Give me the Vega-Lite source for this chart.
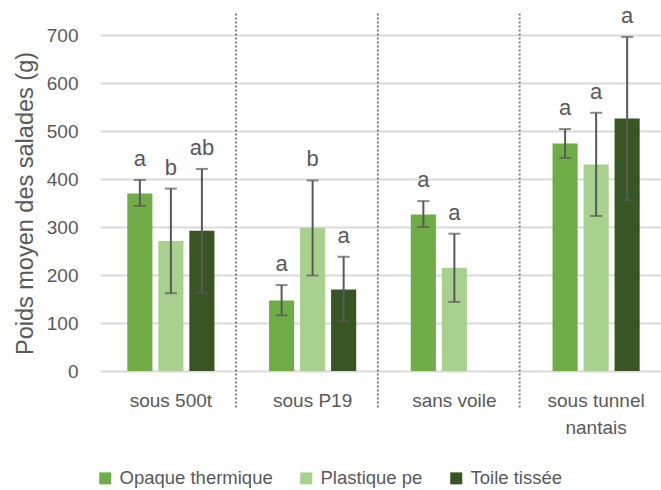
{
  "$schema": "https://vega.github.io/schema/vega-lite/v6.json",
  "width": 567,
  "height": 336,
  "autosize": {"type": "none"},
  "padding": {"left": 100, "top": 35, "right": 0, "bottom": 119},
  "background": "white",
  "config": {
    "view": {"stroke": null},
    "font": "Liberation Sans",
    "text": {"font": "Liberation Sans"}
  },
  "data": {
    "values": [
      {"condition": "sous 500t", "voile": "Opaque thermique", "poids": 370, "bas": 344, "haut": 398, "lettre": "a"},
      {"condition": "sous 500t", "voile": "Plastique pe", "poids": 271, "bas": 162, "haut": 380, "lettre": "b"},
      {"condition": "sous 500t", "voile": "Toile tissée", "poids": 292, "bas": 163, "haut": 421, "lettre": "ab"},
      {"condition": "sous P19", "voile": "Opaque thermique", "poids": 147, "bas": 116, "haut": 179, "lettre": "a"},
      {"condition": "sous P19", "voile": "Plastique pe", "poids": 298, "bas": 199, "haut": 397, "lettre": "b"},
      {"condition": "sous P19", "voile": "Toile tissée", "poids": 170, "bas": 104, "haut": 238, "lettre": "a"},
      {"condition": "sans voile", "voile": "Opaque thermique", "poids": 326, "bas": 300, "haut": 354, "lettre": "a"},
      {"condition": "sans voile", "voile": "Plastique pe", "poids": 215, "bas": 144, "haut": 286, "lettre": "a"},
      {"condition": "sous tunnel nantais", "voile": "Opaque thermique", "poids": 474, "bas": 444, "haut": 504, "lettre": "a"},
      {"condition": "sous tunnel nantais", "voile": "Plastique pe", "poids": 430, "bas": 323, "haut": 538, "lettre": "a"},
      {"condition": "sous tunnel nantais", "voile": "Toile tissée", "poids": 526, "bas": 356, "haut": 696, "lettre": "a"}
    ]
  },
  "layer": [
    {
      "mark": {"type": "bar"},
      "encoding": {
        "x": {
          "field": "condition", "type": "nominal",
          "scale": {"domain": ["sous 500t", "sous P19", "sans voile", "sous tunnel nantais"], "paddingInner": 0, "paddingOuter": 0},
          "axis": {
            "title": null, "labelAngle": 0, "labelFont": "Liberation Sans", "labelFontSize": 19,
            "labelColor": "#595959", "labelPadding": 20, "ticks": false, "domain": false, "grid": false,
            "labelBaseline": "top", "labelLineHeight": 27,
            "labelExpr": "datum.value == 'sous tunnel nantais' ? ['sous tunnel', 'nantais'] : datum.label"
          }
        },
        "xOffset": {"field": "voile", "type": "nominal", "scale": {"domain": ["Opaque thermique", "Plastique pe", "Toile tissée"], "paddingInner": 0.19, "paddingOuter": 0.88}},
        "y": {
          "field": "poids", "type": "quantitative",
          "scale": {"domain": [0, 700], "nice": false},
          "axis": {
            "values": [0, 100, 200, 300, 400, 500, 600, 700],
            "grid": true, "gridColor": "#d9d9d9", "gridWidth": 2, "domain": false, "ticks": false,
            "labelPadding": 22, "labelFont": "Liberation Sans", "labelFontSize": 19, "labelColor": "#595959",
            "title": "Poids moyen des salades (g)", "titleFont": "Liberation Sans", "titleFontSize": 23.5,
            "titleFontWeight": "normal", "titleColor": "#595959", "titlePadding": 9
          }
        },
        "color": {
          "field": "voile", "type": "nominal",
          "scale": {"domain": ["Opaque thermique", "Plastique pe", "Toile tissée"], "range": ["#70ad47", "#a9d18e", "#375623"]},
          "legend": {
            "title": null, "orient": "none", "legendX": -4, "legendY": 434, "direction": "horizontal",
            "symbolType": "square", "symbolSize": 144, "symbolStrokeWidth": 0,
            "labelFont": "Liberation Sans", "labelFontSize": 18.5, "labelColor": "#595959",
            "labelOffset": 5, "columnPadding": 24, "padding": 0
          }
        }
      }
    },
    {
      "mark": {"type": "rule", "color": "#595959", "strokeWidth": 2},
      "encoding": {
        "x": {"field": "condition", "type": "nominal"},
        "xOffset": {"field": "voile", "type": "nominal"},
        "y": {"field": "bas", "type": "quantitative"},
        "y2": {"field": "haut"}
      }
    },
    {
      "mark": {"type": "tick", "color": "#595959", "thickness": 2, "size": 12, "orient": "horizontal"},
      "encoding": {
        "x": {"field": "condition", "type": "nominal"},
        "xOffset": {"field": "voile", "type": "nominal"},
        "y": {"field": "bas", "type": "quantitative"}
      }
    },
    {
      "mark": {"type": "tick", "color": "#595959", "thickness": 2, "size": 12, "orient": "horizontal"},
      "encoding": {
        "x": {"field": "condition", "type": "nominal"},
        "xOffset": {"field": "voile", "type": "nominal"},
        "y": {"field": "haut", "type": "quantitative"}
      }
    },
    {
      "mark": {"type": "text", "color": "#595959", "fontSize": 22, "baseline": "alphabetic", "dy": -14, "font": "Liberation Sans"},
      "encoding": {
        "x": {"field": "condition", "type": "nominal"},
        "xOffset": {"field": "voile", "type": "nominal"},
        "y": {"field": "haut", "type": "quantitative"},
        "text": {"field": "lettre"}
      }
    },
    {
      "data": {"values": [{"condition": "sous 500t"}, {"condition": "sous P19"}, {"condition": "sans voile"}]},
      "mark": {"type": "rule", "color": "#7f7f7f", "strokeWidth": 2, "strokeDash": [2, 2]},
      "encoding": {
        "x": {"field": "condition", "type": "nominal", "bandPosition": 0.96},
        "y": {"datum": 745, "type": "quantitative"},
        "y2": {"datum": -77}
      }
    }
  ]
}
